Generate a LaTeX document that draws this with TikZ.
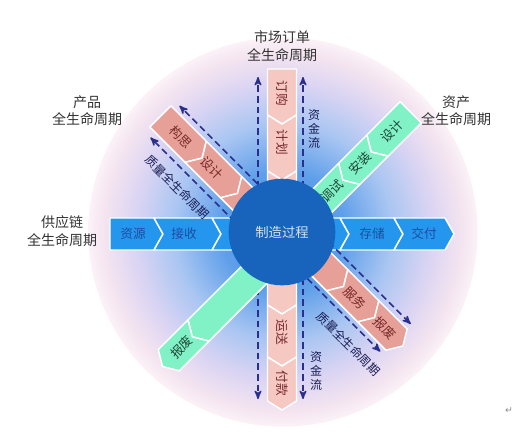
\documentclass[tikz,border=0pt]{standalone}
\usepackage{fontspec}
\setmainfont{Noto Sans CJK SC}
\newfontfamily\symfont{DejaVu Sans}
\usetikzlibrary{arrows}

\definecolor{hubblue}{RGB}{24,100,188}
\definecolor{bandblue}{RGB}{36,150,238}
\definecolor{bandpink}{RGB}{230,160,152}
\definecolor{palepink}{RGB}{245,200,194}
\definecolor{bandgreen}{RGB}{128,242,198}
\definecolor{flownavy}{RGB}{42,46,140}
\definecolor{bluetext}{RGB}{28,78,160}
\definecolor{pinktext}{RGB}{120,40,40}
\definecolor{greentext}{RGB}{30,70,55}
\definecolor{glowA}{RGB}{60,136,226}
\definecolor{glowB}{RGB}{96,160,234}
\definecolor{glowC}{RGB}{170,198,242}
\definecolor{glowD}{RGB}{218,212,243}
\definecolor{glowE}{RGB}{244,228,240}
\definecolor{glowF}{RGB}{251,242,247}

\pgfdeclareradialshading{glow}{\pgfpoint{0bp}{0bp}}{%
  color(0bp)=(glowA); color(8bp)=(glowB); color(14bp)=(glowC);
  color(19bp)=(glowD); color(23bp)=(glowE); color(25bp)=(glowF);
  color(50bp)=(white)}

\def\bandhw{15}
\def\chevtip{9}
% chevron piece from #1 to #2 along x, pointing to +x
\newcommand{\chevseg}[3]{\filldraw[#3] (#1,-\bandhw) -- (#2,-\bandhw) -- ({#2+\chevtip},0) -- (#2,\bandhw) -- (#1,\bandhw) -- ({#1+\chevtip},0) -- cycle;}
% same, with a flat back
\newcommand{\chevflat}[3]{\filldraw[#3] (#1,-\bandhw) -- (#2,-\bandhw) -- ({#2+\chevtip},0) -- (#2,\bandhw) -- (#1,\bandhw) -- cycle;}

\tikzset{
  seg/.style={draw=white, line width=1.1pt, line join=round},
  blueseg/.style={seg, fill=bandblue},
  pinkseg/.style={seg, fill=bandpink},
  paleseg/.style={seg, fill=palepink},
  greenseg/.style={seg, fill=bandgreen},
  bandtext/.style={font=\fontsize{9.5}{11}\selectfont, inner sep=0pt},
  flow/.style={->, draw=flownavy, line width=1.2pt, dash pattern=on 5pt off 3pt},
  flowtext/.style={font=\fontsize{9}{10.5}\selectfont, text=flownavy!60!black, inner sep=0pt, align=center},
  cyclelabel/.style={font=\fontsize{10.5}{13}\selectfont, align=center, text=black!80},
  hub/.style={circle, fill=hubblue, minimum size=80pt, inner sep=0pt,
    text=white!82!hubblue, font=\fontsize{10}{12}\selectfont}
}

\begin{document}
\begin{tikzpicture}[x=0.75pt, y=-0.75pt, >=stealth']

  \fill[white] (0,0) rectangle (524,436);
  \useasboundingbox (0,0) rectangle (524,436);
  \shade[shading=glow] (283,232) circle (146pt);

  % supply chain
  \begin{scope}[shift={(282,234)}]
    \def\bandhw{16}
    \chevflat{-172}{-128}{blueseg}
    \chevseg{-128}{-70}{blueseg}
    \chevseg{-70}{0}{blueseg}
    \chevseg{0}{58}{blueseg}
    \chevseg{58}{112}{blueseg}
    \chevseg{112}{163}{blueseg}
    \node[bandtext, text=bluetext] (tSource)  at (-149,0) {资源};
    \node[bandtext, text=bluetext] (tReceive) at (-98,0)  {接收};
    \node[bandtext, text=bluetext] (tStore)   at (90,0)   {存储};
    \node[bandtext, text=bluetext] (tDeliver) at (142,0)  {交付};
  \end{scope}

  % market order, upper half
  \begin{scope}[shift={(282,233)}, rotate=-90]
    \def\bandhw{14.5}
    \chevflat{-164}{-118}{paleseg}
    \chevseg{-118}{-62}{paleseg}
    \chevseg{-62}{0}{paleseg}
    \node[bandtext, text=pinktext, rotate=-90] (tOrder) at (-140,0) {订购};
    \node[bandtext, text=pinktext, rotate=-90] (tPlan)  at (-91,0)  {计划};
    \coordinate (vtLs) at (-45,24);  \coordinate (vtLe) at (-156,24);
    \coordinate (vtRs) at (-45,-21); \coordinate (vtRe) at (-156,-21);
    \draw[flow] (vtLs) -- (vtLe);
    \draw[flow] (vtRs) -- (vtRe);
  \end{scope}

  % market order, lower half
  \begin{scope}[shift={(282,233)}, rotate=-90]
    \def\bandhw{14.5}
    \chevseg{0}{72}{paleseg}
    \chevseg{72}{124}{paleseg}
    \chevseg{124}{168}{paleseg}
    \node[bandtext, text=pinktext, rotate=-90] (tShip) at (99,0)  {运送};
    \node[bandtext, text=pinktext, rotate=-90] (tPay)  at (150,0) {付款};
    \coordinate (vbLs) at (45,24);  \coordinate (vbLe) at (166,24);
    \coordinate (vbRs) at (45,-21); \coordinate (vbRe) at (166,-21);
    \draw[flow] (vbLs) -- (vbLe);
    \draw[flow] (vbRs) -- (vbRe);
  \end{scope}

  % product, upper left
  \begin{scope}[shift={(282,238)}, rotate=-45]
    \chevflat{-172}{-122}{pinkseg}
    \chevseg{-122}{-72}{pinkseg}
    \chevseg{-72}{0}{pinkseg}
    \node[bandtext, text=pinktext, rotate=-45] (tIdea)   at (-143,0) {构思};
    \node[bandtext, text=pinktext, rotate=-45] (tDesign) at (-99,0)  {设计};
    \coordinate (nwUs) at (-45,-21); \coordinate (nwUe) at (-166,-21);
    \coordinate (nwLs) at (-45,22);  \coordinate (nwLe) at (-164,22);
    \draw[flow] (nwUs) -- (nwUe);
    \draw[flow] (nwLs) -- (nwLe);
    \node[flowtext, rotate=-45] (tQualityA) at (-110,38) {质量全生命周期};
  \end{scope}

  % product, lower right
  \begin{scope}[shift={(282,225)}, rotate=-45]
    \chevseg{0}{78}{pinkseg}
    \chevseg{78}{122}{pinkseg}
    \chevseg{122}{162}{pinkseg}
    \node[bandtext, text=pinktext, rotate=-45] (tService) at (103,0) {服务};
    \node[bandtext, text=pinktext, rotate=-45] (tScrapA)  at (146,0) {报废};
    \coordinate (seUs) at (45,-21); \coordinate (seUe) at (161,-21);
    \coordinate (seLs) at (45,20);  \coordinate (seLe) at (159,20);
    \draw[flow] (seUs) -- (seUe);
    \draw[flow] (seLs) -- (seLe);
    \node[flowtext, rotate=-45] (tQualityB) at (131,37) {质量全生命周期};
  \end{scope}

  % asset, upper right
  \begin{scope}[shift={(282,241)}, rotate=-135]
    \chevflat{-182}{-135}{greenseg}
    \chevseg{-135}{-95}{greenseg}
    \chevseg{-95}{-52}{greenseg}
    \chevseg{-52}{0}{greenseg}
    \node[bandtext, text=greentext, rotate=45] (tLayout)  at (-156,0) {设计};
    \node[bandtext, text=greentext, rotate=45] (tInstall) at (-110,0) {安装};
    \node[bandtext, text=greentext, rotate=45] (tTune)    at (-71,0)  {调试};
  \end{scope}

  % asset, lower left
  \begin{scope}[shift={(282,247)}, rotate=-135]
    \chevseg{0}{118}{greenseg}
    \chevseg{118}{160}{greenseg}
    \node[bandtext, text=greentext, rotate=45] (tScrapB) at (142,0) {报废};
  \end{scope}

  \node[hub] (hub) at (282,232) {制造过程};

  \node[flowtext] (fundTop) at (314,129) {资\\金\\流};
  \node[flowtext] (fundBot) at (316,371) {资\\金\\流};

  \node[cyclelabel] (lblMarket)  at (282,46)  {市场订单\\全生命周期};
  \node[cyclelabel] (lblProduct) at (87,111)  {产品\\全生命周期};
  \node[cyclelabel] (lblAsset)   at (456,111) {资产\\全生命周期};
  \node[cyclelabel] (lblSupply)  at (62,231)  {供应链\\全生命周期};

  \node[font=\symfont\fontsize{7}{8}\selectfont, text=black!45] (mark) at (509,411) {↵};

\end{tikzpicture}
\end{document}
